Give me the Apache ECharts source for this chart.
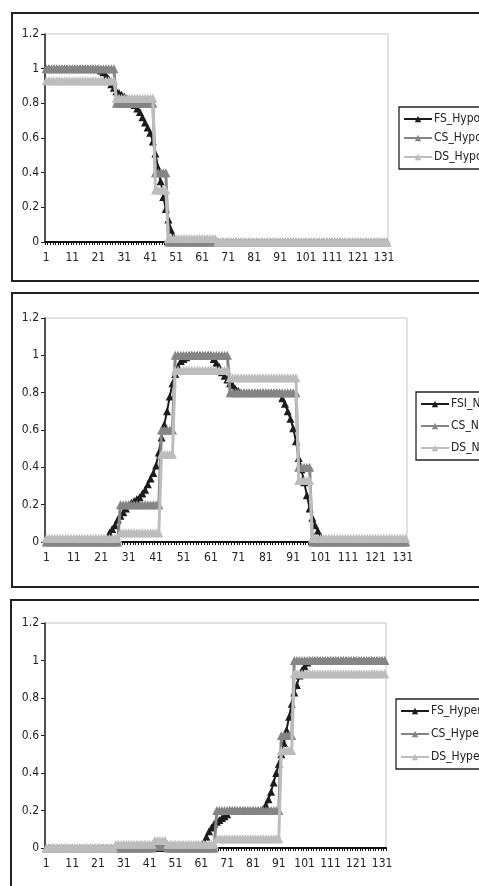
<!DOCTYPE html>
<html>
<head>
<meta charset="utf-8">
<script src="https://cdn.jsdelivr.net/npm/echarts@6/dist/echarts.min.js"></script>
<style>
html,body{margin:0;padding:0;background:#fff;}
#c{width:479px;height:886px;}
</style>
</head>
<body>
<div id="c"></div>
<script>
// ---------- DATA ----------
const categories = [];
for (let i = 1; i <= 132; i++) categories.push(String(i));
const yTicks = [0, 0.2, 0.4, 0.6, 0.8, 1, 1.2];

const legendHypo = ['FS_Hypo', 'CS_Hypo', 'DS_Hypo'];
const legendN = ['FSI_N', 'CS_N', 'DS_N'];
const legendHyper = ['FS_Hyper', 'CS_Hyper', 'DS_Hyper'];

// Panel 1 (Hypo)
const FS_Hypo = [
1,1,1,1,1,1,1,1,1,1,
1,1,1,1,1,1,1,1,1,1,
1,0.99,0.98,0.96,0.94,0.91,0.89,0.87,0.86,0.85,
0.84,0.83,0.82,0.8,0.79,0.77,0.75,0.72,0.69,0.66,
0.63,0.58,0.51,0.43,0.35,0.26,0.19,0.13,0.07,0.03,
0,0,0,0,0,0,0,0,0,0,
0,0,0,0,0,0,0,0,0,0,
0,0,0,0,0,0,0,0,0,0,
0,0,0,0,0,0,0,0,0,0,
0,0,0,0,0,0,0,0,0,0,
0,0,0,0,0,0,0,0,0,0,
0,0,0,0,0,0,0,0,0,0,
0,0,0,0,0,0,0,0,0,0,
0,0];
const CS_Hypo = [
1,1,1,1,1,1,1,1,1,1,
1,1,1,1,1,1,1,1,1,1,
1,1,1,1,1,1,1,0.8,0.8,0.8,
0.8,0.8,0.8,0.8,0.8,0.8,0.8,0.8,0.8,0.8,
0.8,0.8,0.4,0.4,0.4,0.4,0.4,0,0,0,
0,0,0,0,0,0,0,0,0,0,
0,0,0,0,0,0,0,0,0,0,
0,0,0,0,0,0,0,0,0,0,
0,0,0,0,0,0,0,0,0,0,
0,0,0,0,0,0,0,0,0,0,
0,0,0,0,0,0,0,0,0,0,
0,0,0,0,0,0,0,0,0,0,
0,0,0,0,0,0,0,0,0,0,
0,0];
const DS_Hypo = [
0.93,0.93,0.93,0.93,0.93,0.93,0.93,0.93,0.93,0.93,
0.93,0.93,0.93,0.93,0.93,0.93,0.93,0.93,0.93,0.93,
0.93,0.93,0.93,0.93,0.93,0.93,0.93,0.83,0.83,0.83,
0.83,0.83,0.83,0.83,0.83,0.83,0.83,0.83,0.83,0.83,
0.83,0.83,0.3,0.3,0.3,0.3,0.3,0.02,0.02,0.02,
0.02,0.02,0.02,0.02,0.02,0.02,0.02,0.02,0.02,0.02,
0.02,0.02,0.02,0.02,0.02,0.02,0,0,0,0,
0,0,0,0,0,0,0,0,0,0,
0,0,0,0,0,0,0,0,0,0,
0,0,0,0,0,0,0,0,0,0,
0,0,0,0,0,0,0,0,0,0,
0,0,0,0,0,0,0,0,0,0,
0,0,0,0,0,0,0,0,0,0,
0,0];

// Panel 2 (N)
const FSI_N = [
0,0,0,0,0,0,0,0,0,0,
0,0,0,0,0,0,0,0,0,0,
0,0,0.02,0.05,0.07,0.09,0.12,0.14,0.16,0.18,
0.2,0.21,0.22,0.23,0.24,0.26,0.28,0.31,0.34,0.37,
0.41,0.48,0.56,0.63,0.7,0.78,0.85,0.9,0.94,0.97,
0.98,0.99,1,1,1,1,1,1,1,1,
1,0.98,0.96,0.94,0.91,0.89,0.87,0.85,0.84,0.82,
0.81,0.8,0.8,0.8,0.8,0.8,0.8,0.8,0.8,0.8,
0.8,0.8,0.8,0.8,0.8,0.8,0.77,0.74,0.7,0.66,
0.61,0.54,0.45,0.39,0.32,0.25,0.18,0.13,0.09,0.06,
0.03,0,0,0,0,0,0,0,0,0,
0,0,0,0,0,0,0,0,0,0,
0,0,0,0,0,0,0,0,0,0,
0,0];
const CS_N = [
0,0,0,0,0,0,0,0,0,0,
0,0,0,0,0,0,0,0,0,0,
0,0,0,0,0,0,0,0.2,0.2,0.2,
0.2,0.2,0.2,0.2,0.2,0.2,0.2,0.2,0.2,0.2,
0.2,0.2,0.6,0.6,0.6,0.6,0.6,1,1,1,
1,1,1,1,1,1,1,1,1,1,
1,1,1,1,1,1,1,0.8,0.8,0.8,
0.8,0.8,0.8,0.8,0.8,0.8,0.8,0.8,0.8,0.8,
0.8,0.8,0.8,0.8,0.8,0.8,0.8,0.8,0.8,0.8,
0.8,0.8,0.4,0.4,0.4,0.4,0.4,0,0,0,
0,0,0,0,0,0,0,0,0,0,
0,0,0,0,0,0,0,0,0,0,
0,0,0,0,0,0,0,0,0,0,
0,0];
const DS_N = [
0.02,0.02,0.02,0.02,0.02,0.02,0.02,0.02,0.02,0.02,
0.02,0.02,0.02,0.02,0.02,0.02,0.02,0.02,0.02,0.02,
0.02,0.02,0.02,0.02,0.02,0.02,0.02,0.05,0.05,0.05,
0.05,0.05,0.05,0.05,0.05,0.05,0.05,0.05,0.05,0.05,
0.05,0.05,0.47,0.47,0.47,0.47,0.47,0.92,0.92,0.92,
0.92,0.92,0.92,0.92,0.92,0.92,0.92,0.92,0.92,0.92,
0.92,0.92,0.92,0.92,0.92,0.92,0.92,0.88,0.88,0.88,
0.88,0.88,0.88,0.88,0.88,0.88,0.88,0.88,0.88,0.88,
0.88,0.88,0.88,0.88,0.88,0.88,0.88,0.88,0.88,0.88,
0.88,0.88,0.33,0.33,0.33,0.33,0.33,0.02,0.02,0.02,
0.02,0.02,0.02,0.02,0.02,0.02,0.02,0.02,0.02,0.02,
0.02,0.02,0.02,0.02,0.02,0.02,0.02,0.02,0.02,0.02,
0.02,0.02,0.02,0.02,0.02,0.02,0.02,0.02,0.02,0.02,
0.02,0.02];

// Panel 3 (Hyper)
const FS_Hyper = [
0,0,0,0,0,0,0,0,0,0,
0,0,0,0,0,0,0,0,0,0,
0,0,0,0,0,0,0,0,0,0,
0,0,0,0,0,0,0,0,0,0,
0,0,0,0,0,0,0,0,0,0,
0,0,0,0,0,0,0,0,0,0,
0,0.03,0.06,0.09,0.11,0.13,0.14,0.15,0.16,0.17,
0.18,0.2,0.2,0.2,0.2,0.2,0.2,0.2,0.2,0.2,
0.2,0.2,0.2,0.2,0.21,0.23,0.26,0.3,0.35,0.4,
0.45,0.5,0.56,0.63,0.7,0.77,0.83,0.87,0.92,0.95,
0.97,0.99,1,1,1,1,1,1,1,1,
1,1,1,1,1,1,1,1,1,1,
1,1,1,1,1,1,1,1,1,1,
1,1];
const CS_Hyper = [
0,0,0,0,0,0,0,0,0,0,
0,0,0,0,0,0,0,0,0,0,
0,0,0,0,0,0,0,0,0,0,
0,0,0,0,0,0,0,0,0,0,
0,0,0.01,0.01,0.01,0.01,0.01,0,0,0,
0,0,0,0,0,0,0,0,0,0,
0,0,0,0,0,0,0.2,0.2,0.2,0.2,
0.2,0.2,0.2,0.2,0.2,0.2,0.2,0.2,0.2,0.2,
0.2,0.2,0.2,0.2,0.2,0.2,0.2,0.2,0.2,0.2,
0.2,0.6,0.6,0.6,0.6,0.6,1,1,1,1,
1,1,1,1,1,1,1,1,1,1,
1,1,1,1,1,1,1,1,1,1,
1,1,1,1,1,1,1,1,1,1,
1,1];
const DS_Hyper = [
0,0,0,0,0,0,0,0,0,0,
0,0,0,0,0,0,0,0,0,0,
0,0,0,0,0,0,0,0.02,0.02,0.02,
0.02,0.02,0.02,0.02,0.02,0.02,0.02,0.02,0.02,0.02,
0.02,0.02,0.04,0.04,0.04,0.04,0.04,0.02,0.02,0.02,
0.02,0.02,0.02,0.02,0.02,0.02,0.02,0.02,0.02,0.02,
0.02,0.02,0.02,0.02,0.02,0.02,0.05,0.05,0.05,0.05,
0.05,0.05,0.05,0.05,0.05,0.05,0.05,0.05,0.05,0.05,
0.05,0.05,0.05,0.05,0.05,0.05,0.05,0.05,0.05,0.05,
0.05,0.52,0.52,0.52,0.52,0.52,0.93,0.93,0.93,0.93,
0.93,0.93,0.93,0.93,0.93,0.93,0.93,0.93,0.93,0.93,
0.93,0.93,0.93,0.93,0.93,0.93,0.93,0.93,0.93,0.93,
0.93,0.93,0.93,0.93,0.93,0.93,0.93,0.93,0.93,0.93,
0.93,0.93];

// ---------- STYLE / LAYOUT ----------
const FONT = "'Liberation Sans Narrow','DejaVu Sans Condensed','Liberation Sans',Arial,sans-serif";
const COL_FS = '#1c1c1c', COL_CS = '#858585', COL_DS = '#bdbdbd';

const grids = [
  {left: 45, top: 34, width: 343, height: 208},
  {left: 45, top: 318, width: 362, height: 224},
  {left: 45, top: 623, width: 341, height: 225}
];
const legendPos = [
  {left: 399, top: 107, itemGap: 7},
  {left: 416, top: 392, itemGap: 10},
  {left: 396, top: 699, itemGap: 11}
];
const legendNames = [legendHypo, legendN, legendHyper];
const panelData = [
  [FS_Hypo, CS_Hypo, DS_Hypo],
  [FSI_N, CS_N, DS_N],
  [FS_Hyper, CS_Hyper, DS_Hyper]
];
const colors = [COL_FS, COL_CS, COL_DS];

const option = {
  animation: false,
  backgroundColor: '#fff',
  grid: grids.map(g => Object.assign({show: true, borderColor: '#c4c4c4', borderWidth: 1, backgroundColor: '#fff'}, g)),
  xAxis: grids.map((g, k) => ({
    type: 'category', gridIndex: k, data: categories, boundaryGap: true,
    axisLine: {lineStyle: {color: '#111', width: 2}},
    axisTick: {show: true, interval: 0, length: 3, lineStyle: {color: '#111', width: 1}},
    axisLabel: {interval: 9, margin: 10, fontSize: 12, fontFamily: FONT, color: '#222'},
    splitLine: {show: false}
  })),
  yAxis: grids.map((g, k) => ({
    type: 'value', gridIndex: k, min: yTicks[0], max: yTicks[yTicks.length - 1], interval: 0.2,
    axisLine: {show: true, lineStyle: {color: '#222', width: 1.5}},
    axisTick: {show: true, length: 4, lineStyle: {color: '#222'}},
    axisLabel: {margin: 6, fontSize: 12, fontFamily: FONT, color: '#222',
      formatter: v => String(Math.round(v * 10) / 10)},
    splitLine: {show: false}
  })),
  legend: legendPos.map((p, k) => ({
    orient: 'vertical', left: p.left, top: p.top, itemGap: p.itemGap,
    data: legendNames[k], itemWidth: 28, itemHeight: 8,
    padding: [6, 60, 6, 4],
    borderColor: '#222', borderWidth: 1.3, backgroundColor: '#fff',
    textStyle: {fontSize: 12, fontFamily: FONT, color: '#222', padding: [0, 0, 0, -3]}
  })),
  graphic: [
    {type: 'rect', shape: {x: 12, y: 13, width: 520, height: 268}, style: {fill: 'none', stroke: '#222', lineWidth: 2}, z: -10},
    {type: 'rect', shape: {x: 12, y: 293, width: 520, height: 294}, style: {fill: 'none', stroke: '#222', lineWidth: 2}, z: -10},
    {type: 'rect', shape: {x: 11, y: 600, width: 520, height: 400}, style: {fill: 'none', stroke: '#222', lineWidth: 2}, z: -10}
  ],
  series: []
};

for (let k = 0; k < 3; k++) {
  for (let s = 0; s < 3; s++) {
    option.series.push({
      type: 'line', name: legendNames[k][s], xAxisIndex: k, yAxisIndex: k,
      data: panelData[k][s],
      symbol: 'triangle', symbolSize: s === 0 ? 8 : 9, showAllSymbol: true,
      lineStyle: {color: colors[s], width: s === 0 ? 2 : 3},
      itemStyle: {color: colors[s]},
      z: 2 + s
    });
  }
}

const chart = echarts.init(document.getElementById('c'), null, {renderer: 'canvas'});
chart.setOption(option);
</script>
</body>
</html>
